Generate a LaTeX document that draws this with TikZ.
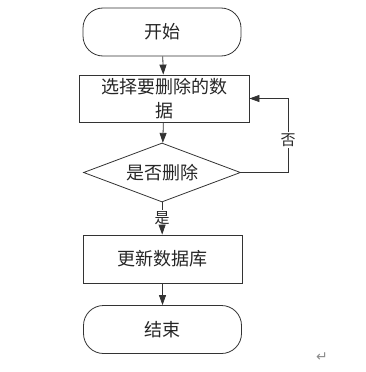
\documentclass[tikz,border=0pt]{standalone}
\usepackage{fontspec}
\newfontfamily\cjk{Noto Sans CJK SC}
\newfontfamily\dejavu{DejaVu Sans}
\usetikzlibrary{arrows.meta,shapes.geometric}
\begin{document}
\begin{tikzpicture}[x=1pt,y=-1pt,
  line/.style={draw=black!80,line width=0.8pt},
  arr/.style={line,-{Triangle[length=10pt,width=7pt]}},
  txt/.style={font=\cjk\fontsize{18}{24}\selectfont,text=black!85},
  term/.style={line,txt,rounded corners=20pt,minimum width=158pt,minimum height=48pt},
  proc/.style={line,txt,minimum width=170pt,minimum height=47pt,align=center,inner sep=1pt},
  dec/.style={line,txt,diamond,aspect=2.66,minimum width=157pt,minimum height=59pt,inner sep=0pt},
  lbl/.style={font=\cjk\fontsize{15}{17}\selectfont,text=black!85,inner sep=1pt,fill=white}
]
\useasboundingbox (0,0) rectangle (366,372);
\node[term] (start) at (162,32) {开始};
\node[proc] (sel) at (164,98.5) {选择要删除的数\\据};
\node[dec] (q) at (162,172.5) {是否删除};
\node[proc,minimum width=159pt,minimum height=48pt] (upd) at (162.5,259) {更新数据库};
\node[term] (end) at (162.5,329.5) {结束};
\coordinate (c1) at (288,172.5);
\coordinate (c2) at (288,98.5);
\node[lbl] (no) at (288,140) {否};
\node[lbl] (yes) at (162,218) {是};
\draw[arr] (start) -- (sel);
\draw[arr] (sel) -- (q);
\draw[line] (q.south) -- (yes);
\draw[arr] (yes) -- (upd);
\draw[arr] (upd) -- (end);
\draw[line] (q.east) -- (c1) -- (no);
\draw[arr] (no) -- (c2) -- (sel.east);
\node[font=\dejavu\fontsize{14}{16}\selectfont,text=black!45] (ret) at (322,357) {↵};
\end{tikzpicture}
\end{document}
